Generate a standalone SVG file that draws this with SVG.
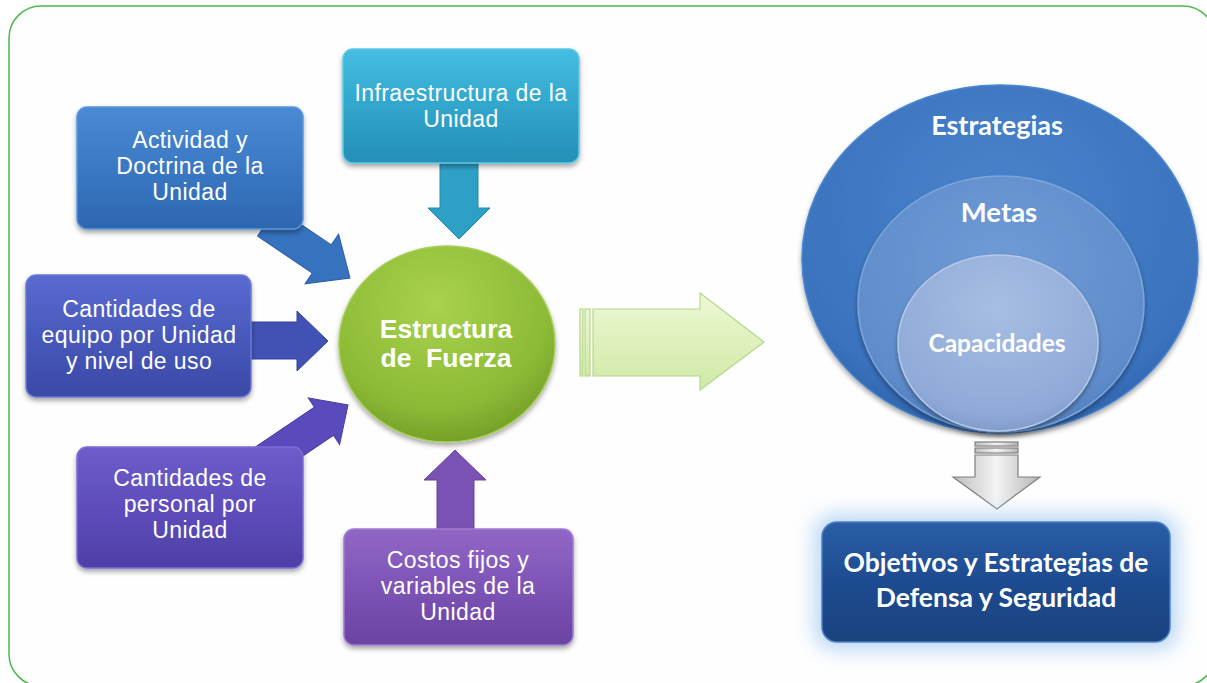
<svg xmlns="http://www.w3.org/2000/svg" width="1207" height="683" viewBox="0 0 1207 683">
<defs>
  <style>
    .lt { font-family: "Liberation Sans", Arial, sans-serif; font-size: 23px; letter-spacing: 0.4px; fill: #ffffff; text-anchor: middle; }
    .ct { font-family: "Liberation Sans", Arial, sans-serif; font-size: 26.5px; font-weight: bold; fill: #ffffff; text-anchor: middle; }
    .rt { font-family: "Lato", "Open Sans", sans-serif; font-weight: bold; fill: #ffffff; text-anchor: middle; }
    .box { stroke-width: 1.5; filter: url(#sh); }
  </style>
  <filter id="sh" x="-20%" y="-20%" width="140%" height="150%">
    <feDropShadow dx="0" dy="3" stdDeviation="2.5" flood-color="#000" flood-opacity="0.35"/>
  </filter>
  <filter id="glow" x="-30%" y="-40%" width="160%" height="180%">
    <feGaussianBlur stdDeviation="10"/>
  </filter>
  <linearGradient id="g1" x1="0" y1="0" x2="0" y2="1">
    <stop offset="0" stop-color="#4a8ad4"/><stop offset="0.5" stop-color="#3b78c4"/><stop offset="1" stop-color="#2e66b0"/>
  </linearGradient>
  <linearGradient id="g2" x1="0" y1="0" x2="0" y2="1">
    <stop offset="0" stop-color="#45bde0"/><stop offset="0.5" stop-color="#31a6cc"/><stop offset="1" stop-color="#258fb6"/>
  </linearGradient>
  <linearGradient id="g3" x1="0" y1="0" x2="0" y2="1">
    <stop offset="0" stop-color="#5a6bd0"/><stop offset="0.5" stop-color="#4859bc"/><stop offset="1" stop-color="#3a49a6"/>
  </linearGradient>
  <linearGradient id="g4" x1="0" y1="0" x2="0" y2="1">
    <stop offset="0" stop-color="#6e5ccc"/><stop offset="0.5" stop-color="#5e4dbb"/><stop offset="1" stop-color="#4e3fa6"/>
  </linearGradient>
  <linearGradient id="g5" x1="0" y1="0" x2="0" y2="1">
    <stop offset="0" stop-color="#9166c6"/><stop offset="0.5" stop-color="#7d54b6"/><stop offset="1" stop-color="#6a43a2"/>
  </linearGradient>
  <radialGradient id="gc" cx="0.45" cy="0.3" r="0.75">
    <stop offset="0" stop-color="#a9d24e"/><stop offset="0.7" stop-color="#8cba36"/><stop offset="1" stop-color="#6f9a25"/>
  </radialGradient>
  <linearGradient id="gga" x1="0" y1="0" x2="0" y2="1">
    <stop offset="0" stop-color="#eef8d6"/><stop offset="1" stop-color="#cfe9a4"/>
  </linearGradient>
  <linearGradient id="ggr" x1="0" y1="0" x2="1" y2="0">
    <stop offset="0" stop-color="#bdbdbd"/><stop offset="0.5" stop-color="#f4f4f4"/><stop offset="1" stop-color="#b5b5b5"/>
  </linearGradient>
  <radialGradient id="go" cx="0.5" cy="0.35" r="0.7">
    <stop offset="0" stop-color="#4a84cc"/><stop offset="0.8" stop-color="#3a72bd"/><stop offset="1" stop-color="#2d5ea6"/>
  </radialGradient>
  <radialGradient id="gm" cx="0.5" cy="0.35" r="0.7">
    <stop offset="0" stop-color="#6f9bd6"/><stop offset="0.8" stop-color="#5f8dcb"/><stop offset="1" stop-color="#4d78b6"/>
  </radialGradient>
  <radialGradient id="gi" cx="0.5" cy="0.3" r="0.75">
    <stop offset="0" stop-color="#a6bee3"/><stop offset="0.8" stop-color="#90aad8"/><stop offset="1" stop-color="#7b96c6"/>
  </radialGradient>
  <linearGradient id="gb" x1="0" y1="0" x2="0" y2="1">
    <stop offset="0" stop-color="#2a5ea6"/><stop offset="0.5" stop-color="#1d4b90"/><stop offset="1" stop-color="#1a427f"/>
  </linearGradient>
</defs>

<rect x="9" y="6" width="1206" height="680" rx="32" fill="#fefefe" stroke="#4cb94c" stroke-width="1.5"/>

<g id="connectors">
  <polygon transform="translate(350,278) rotate(34)" points="-100,-17 -34,-17 -34,-30 0,0 -34,30 -34,17 -100,17" fill="#3672be" stroke="#2a5ea6" stroke-width="1"/>
  <polygon points="440,160 478,160 478,208 490,208 459,239 428,208 440,208" fill="#2ea0c6" stroke="#2389b0" stroke-width="1"/>
  <polygon points="245,322 297,322 297,311 328,341 297,371 297,359 245,359" fill="#4252b4" stroke="#34429c" stroke-width="1"/>
  <polygon transform="translate(348,405) rotate(-34)" points="-100,-17 -29,-17 -29,-28 0,0 -29,28 -29,17 -100,17" fill="#5a4bbd" stroke="#4a3ca6" stroke-width="1"/>
  <polygon points="437,535 474,535 474,480 486,480 455,450 424,480 437,480" fill="#7a52b4" stroke="#65429e" stroke-width="1"/>
  <g fill="url(#gga)" stroke="#b6d78a" stroke-width="1.2">
    <rect x="580" y="309" width="3" height="67"/>
    <rect x="585" y="309" width="5" height="67"/>
    <polygon points="593,309 700,309 700,293 764,342 700,390 700,376 593,376"/>
  </g>
  <g fill="url(#ggr)" stroke="#7f7f7f" stroke-width="1.2">
    <rect x="975" y="442" width="43" height="4"/>
    <rect x="975" y="448" width="43" height="5"/>
    <polygon points="975,455 1018,455 1018,477 1040,477 997,509 953,477 975,477"/>
  </g>
</g>

<g id="n-actividad">
  <rect class="box" x="77" y="107" width="226" height="122" rx="10" fill="url(#g1)" stroke="#5a96dc"/>
  <text class="lt"><tspan x="190" y="148">Actividad y</tspan><tspan x="190" y="174">Doctrina de la</tspan><tspan x="190" y="200">Unidad</tspan></text>
</g>

<g id="n-infra">
  <rect class="box" x="343" y="49" width="236" height="114" rx="10" fill="url(#g2)" stroke="#5cc8e8"/>
  <text class="lt"><tspan x="461" y="101">Infraestructura de la</tspan><tspan x="461" y="127">Unidad</tspan></text>
</g>

<g id="n-equipo">
  <rect class="box" x="26" y="275" width="225" height="122" rx="10" fill="url(#g3)" stroke="#6a7ad6"/>
  <text class="lt"><tspan x="139" y="317">Cantidades de</tspan><tspan x="139" y="343">equipo por Unidad</tspan><tspan x="139" y="369">y nivel de uso</tspan></text>
</g>

<g id="n-personal">
  <rect class="box" x="77" y="447" width="226" height="121" rx="10" fill="url(#g4)" stroke="#7e6cd6"/>
  <text class="lt"><tspan x="190" y="486">Cantidades de</tspan><tspan x="190" y="512">personal por</tspan><tspan x="190" y="538">Unidad</tspan></text>
</g>

<g id="n-costos">
  <rect class="box" x="344" y="529" width="229" height="116" rx="10" fill="url(#g5)" stroke="#a07ad2"/>
  <text class="lt"><tspan x="458" y="568">Costos fijos y</tspan><tspan x="458" y="594">variables de la</tspan><tspan x="458" y="620">Unidad</tspan></text>
</g>

<g id="n-estructura">
  <ellipse cx="447" cy="344" rx="108" ry="98" fill="url(#gc)" stroke="#a6cf55" stroke-width="1.5" filter="url(#sh)"/>
  <text class="ct"><tspan x="446" y="338">Estructura</tspan><tspan x="446" y="367" xml:space="preserve">de  Fuerza</tspan></text>
</g>

<g id="n-estrategias">
  <ellipse cx="1000" cy="259" rx="198" ry="174" fill="url(#go)" stroke="#4a86d0" stroke-width="1.5" filter="url(#sh)"/>
  <text class="rt" font-size="27" x="997" y="135">Estrategias</text>
</g>

<g id="n-metas">
  <ellipse cx="1001" cy="304" rx="143" ry="128" fill="url(#gm)" stroke="#7aa6dc" stroke-width="1.5" filter="url(#sh)"/>
  <text class="rt" font-size="27.5" x="999" y="222">Metas</text>
</g>

<g id="n-capacidades">
  <ellipse cx="998" cy="343" rx="100" ry="88" fill="url(#gi)" stroke="#b4c8e8" stroke-width="1.5" filter="url(#sh)"/>
  <text class="rt" font-size="24.5" x="997" y="352">Capacidades</text>
</g>

<g id="n-objetivos">
  <rect x="814" y="514" width="364" height="136" rx="20" fill="#b2d3f4" opacity="0.9" filter="url(#glow)"/>
  <rect x="822" y="522" width="348" height="120" rx="15" fill="url(#gb)" stroke="#4d7fc4" stroke-width="1.5"/>
  <text class="rt" font-size="26.5"><tspan x="996" y="572">Objetivos y Estrategias de</tspan><tspan x="996" y="607">Defensa y Seguridad</tspan></text>
</g>
</svg>
